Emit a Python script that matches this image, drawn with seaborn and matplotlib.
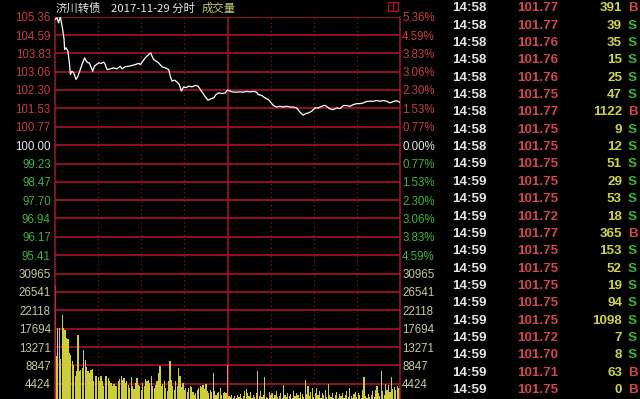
import numpy as np
import pandas as pd
import matplotlib
matplotlib.use("Agg")
import matplotlib.pyplot as plt
import seaborn as sns
from matplotlib.patches import Rectangle

# ---------------- data ----------------
title_name = "济川转债"
title_date = "2017-11-29 分时"
title_vol = "成交量"

price_minutes = [0, 1.4, 2.5, 3.7, 5.3, 6.3, 6.7, 7.7, 9.0, 10.0, 10.7, 11.8, 13.0, 14.6, 16.0,
                 17.6, 19.2, 20.6, 21.8, 23.0, 23.9, 25.3, 26.2, 27.4, 28.8, 30.4, 32.2, 33.9,
                 35.0, 36.2, 38.5, 40.8, 43.1, 45.4, 46.6, 48.9, 51.2, 53.6, 55.9, 58.2, 59.4,
                 61.0, 62.8, 65.2, 66.5, 67.5, 68.6, 70.3, 72.1, 74.4, 76.8, 79.1, 80.2, 81.4,
                 83.2, 84.9, 86.5, 87.9, 89.5, 91.1, 93.0, 95.3, 97.6, 99.5, 101.1, 102.7,
                 104.6, 106.4, 108.3, 110.4, 112.0, 113.9, 116.2, 118.5, 120.0, 121.7, 124.1,
                 126.4, 128.7, 131.0, 133.3, 135.7, 138.0, 140.3, 141.4, 143.8, 146.1, 148.4,
                 150.0, 151.9, 154.2, 156.5, 158.8, 161.2, 163.5, 165.8, 168.1, 169.3, 170.9,
                 172.7, 174.6, 176.2, 178.5, 180.9, 183.2, 185.5, 187.8, 189.4, 191.3, 193.6,
                 195.9, 198.3, 200.6, 202.9, 205.2, 207.5, 209.9, 212.2, 214.5, 216.8, 219.1,
                 221.5, 223.8, 226.1, 228.4, 230.7, 233.0, 235.4, 237.7, 240.0]
price_values = [105.24, 105.31, 105.10, 105.36, 104.83, 104.41, 103.99, 104.06, 103.92, 103.43,
                102.95, 103.08, 103.02, 102.74, 102.88, 103.15, 103.43, 103.64, 103.50, 103.43,
                103.43, 103.22, 103.08, 103.29, 103.36, 103.43, 103.41, 103.46, 103.36, 103.15,
                103.18, 103.22, 103.18, 103.29, 103.18, 103.27, 103.29, 103.32, 103.36, 103.41,
                103.36, 103.50, 103.64, 103.78, 103.85, 103.71, 103.57, 103.50, 103.43, 103.27,
                103.22, 103.15, 102.88, 102.67, 102.71, 102.63, 102.53, 102.25, 102.43, 102.39,
                102.46, 102.43, 102.49, 102.46, 102.32, 102.18, 102.01, 101.87, 101.93, 101.97,
                102.11, 102.18, 102.15, 102.18, 102.30, 102.25, 102.21, 102.21, 102.22, 102.21,
                102.24, 102.22, 102.24, 102.21, 102.11, 102.07, 101.97, 101.90, 101.79, 101.65,
                101.59, 101.62, 101.59, 101.62, 101.59, 101.59, 101.55, 101.46, 101.34, 101.25,
                101.32, 101.34, 101.41, 101.55, 101.55, 101.62, 101.66, 101.59, 101.51, 101.48,
                101.55, 101.52, 101.65, 101.65, 101.62, 101.69, 101.73, 101.73, 101.76, 101.82,
                101.83, 101.83, 101.86, 101.83, 101.86, 101.83, 101.76, 101.82, 101.85, 101.78]

volumes = [28300, 11170, 17850, 17850, 10370, 21070, 17850, 17450, 15440, 15190,
           11820, 11410, 9970, 9000, 6190, 7390, 16240, 7390, 7800, 8200,
           12460, 10210, 8440, 7390, 6990, 7800, 7960, 4980, 6190, 6350,
           6030, 5200, 6190, 4980, 3770, 6350, 6190, 5780, 4980, 4580,
           3930, 4420, 3770, 3930, 4980, 5540, 6190, 5380, 5700, 4580,
           4980, 4180, 3500, 6030, 3770, 3130, 4580, 5780, 4180, 3930,
           2970, 4580, 3800, 5540, 4980, 5380, 4580, 6190, 3770, 3370,
           4200, 4980, 6990, 8760, 3930, 4420, 4980, 3370, 2570, 4980,
           9810, 5380, 3770, 2970, 4980, 3770, 8200, 6190, 3610, 4580,
           2970, 3300, 2330, 3370, 3770, 3610, 2330, 1760, 2170, 2970,
           3300, 3930, 3610, 4180, 3130, 4420, 2570, 2170, 2970, 2500,
           6990, 2570, 1760, 2170, 2330, 3370, 1760, 2170, 2500, 2100,
           9000,
           1500, 1200, 1800, 1100, 1400, 900, 1600, 1300, 2000, 1100,
           1500, 2600, 3100, 2200, 1400, 2500, 1000, 1700, 1200, 2200,
           7400, 1500, 2600, 1300, 1800, 6000, 1200, 900, 2400, 1600,
           2200, 1000, 1800, 2700, 1300, 1500, 2100, 1100, 4200, 1700,
           1200, 2300, 1500, 2000, 1000, 2600, 1400, 2200, 1700, 1100,
           2500, 1900, 1300, 5400, 2000, 3800, 1500, 2400, 3400, 1200,
           2100, 3400, 1600, 2700, 1000, 2200, 1600, 3000, 1200, 4400,
           1800, 1300, 2100, 1000, 1700, 2400, 1100, 1900, 1400, 2200,
           900, 1600, 2600, 1300, 3400, 1500, 1000, 2000, 2500, 1200,
           2300, 1700, 1100, 2800, 6000, 1400, 1000, 2000, 1300, 1700,
           2700, 1200, 2900, 3800, 2100, 1500, 7600, 2600, 1800, 4400,
           3000, 4200, 2400, 6000, 3200, 3600, 2800, 3800, 3300, 3500]
auction_minutes = [0, 120]

price_ticks = [105.36, 104.59, 103.83, 103.06, 102.30, 101.53, 100.77, 100.00,
               99.23, 98.47, 97.70, 96.94, 96.17, 95.41]
pct_labels = ["5.36%", "4.59%", "3.83%", "3.06%", "2.30%", "1.53%", "0.77%", "0.00%",
              "0.77%", "1.53%", "2.30%", "3.06%", "3.83%", "4.59%"]
vol_ticks = [30965, 26541, 22118, 17694, 13271, 8847, 4424]
grid_minutes = [30, 60, 90, 150, 180, 210]
half_minute = 120

tick_times = ["14:58"] * 9 + ["14:59"] * 14
tick_prices = ["101.77", "101.77", "101.76", "101.76", "101.76", "101.75", "101.77", "101.75",
               "101.75", "101.75", "101.75", "101.75", "101.72", "101.77", "101.75", "101.75",
               "101.75", "101.75", "101.75", "101.72", "101.70", "101.71", "101.75"]
tick_vols = [391, 39, 35, 15, 25, 47, 1122, 9, 12, 51, 29, 53, 18, 365, 153, 52, 19, 94,
             1098, 7, 8, 63, 0]
tick_sides = ["B", "S", "S", "S", "S", "S", "B", "S", "S", "S", "S", "S", "S", "B", "S",
              "S", "S", "S", "S", "S", "S", "B", "B"]

# ---------------- style ----------------
sns.set_style("dark")
plt.rcParams["font.family"] = ["Liberation Sans", "DejaVu Sans"]
BG = "#000000"
GRID = "#a8142c"
DOT = "#7a1222"
RED = "#d24650"
AXRED = "#c83c46"
GREEN = "#3cb43c"
WHITE = "#e6e6e6"
VOLTXT = "#c8c8a0"
YELLOW = "#cccc3c"

W, H = 640, 399
fig = plt.figure(figsize=(W / 100, H / 100), dpi=100, facecolor=BG)

def fx(px):
    return px / W

def fy(py):
    return 1 - py / H

left, right = 55, 400
p_top, p_bot = 16.6, 273.6
v_top, v_bot = 273.6, 402.1

axp = fig.add_axes([fx(left), fy(p_bot), fx(right - left), (p_bot - p_top) / H])
axv = fig.add_axes([fx(left), fy(v_bot), fx(right - left), (v_bot - v_top) / H])

for ax in (axp, axv):
    ax.set_facecolor(BG)
    ax.set_xlim(0, 240)
    for s in ("top", "bottom"):
        ax.spines[s].set_visible(False)
    for s in ("left", "right"):
        ax.spines[s].set_color(GRID)
        ax.spines[s].set_linewidth(1.1)
    ax.set_xticks([])
    ax.set_xlabel("")
    ax.set_ylabel("")
    for m in grid_minutes:
        ax.axvline(m, color=DOT, lw=0.9, ls=(0, (1.2, 2.2)), zorder=0)
    ax.axvline(half_minute, color=GRID, lw=1.1, zorder=0)

# price panel
step = 0.7657
axp.set_ylim(100 - 7 * step, 100 + 7 * step)
for t in price_ticks:
    axp.axhline(t, color=GRID, lw=1.2, zorder=0)
axp.axhline(100 - 7 * step, color=GRID, lw=1.2, zorder=0)
sns.lineplot(x=price_minutes, y=price_values, color="white", linewidth=0.9, ax=axp, zorder=3)
axp.set_xlim(0, 240)
axp.set_yticks(price_ticks)
axp.set_yticklabels([f"{t:.2f}" for t in price_ticks], fontsize=8.3)
axp.tick_params(axis="y", length=0, pad=3.0)
for lab, t in zip(axp.get_yticklabels(), price_ticks):
    lab.set_color(AXRED if t > 100 else (WHITE if t == 100 else GREEN))
axp2 = axp.twinx()
axp2.set_ylim(axp.get_ylim())
axp2.set_yticks(price_ticks)
axp2.set_yticklabels(pct_labels, fontsize=8.3)
axp2.tick_params(axis="y", length=0, pad=1.5)
for s in axp2.spines.values():
    s.set_visible(False)
for lab, t in zip(axp2.get_yticklabels(), price_ticks):
    lab.set_color(AXRED if t > 100 else (WHITE if t == 100 else GREEN))
axp.grid(False)
axp2.grid(False)

# volume panel
vol_df = pd.DataFrame({"minute": np.arange(len(volumes)), "volume": volumes})
vol_df["kind"] = np.where(vol_df["minute"].isin(auction_minutes), "auction", "normal")
sns.barplot(data=vol_df, x="minute", y="volume", hue="kind",
            palette={"normal": YELLOW, "auction": "#ff8c28"},
            native_scale=True, dodge=False, width=0.85, errorbar=None,
            legend=False, saturation=1, linewidth=0, ax=axv, zorder=2)
axv.set_xlim(0, 240)
axv.set_ylim(0, vol_ticks[0])
for t in vol_ticks:
    axv.axhline(t, color=GRID, lw=1.2, zorder=0)
axv.set_yticks(vol_ticks)
axv.set_yticklabels([str(t) for t in vol_ticks], fontsize=8.3, color=VOLTXT)
axv.tick_params(axis="y", length=0, pad=3.0)
axv.set_xticks([])
axv.set_xlabel("")
axv.set_ylabel("")
axv.grid(False)
axv2 = axv.twinx()
axv2.set_ylim(axv.get_ylim())
axv2.set_yticks(vol_ticks)
axv2.set_yticklabels([str(t) for t in vol_ticks], fontsize=8.3, color=VOLTXT)
axv2.tick_params(axis="y", length=0, pad=1.5)
for s in axv2.spines.values():
    s.set_visible(False)
axv2.grid(False)

# title
cjk = ["Noto Sans CJK SC", "DejaVu Sans"]
fig.text(fx(56), fy(8), title_name, color=WHITE, fontsize=8.2, family=cjk, va="center")
fig.text(fx(111), fy(8), title_date, color=WHITE, fontsize=8.2, family=cjk, va="center")
fig.text(fx(202), fy(8), title_vol, color="#c8c878", fontsize=8.2, family=cjk, va="center")
fig.patches.append(Rectangle((fx(388), fy(11)), fx(10), 9 / H, fill=False,
                             edgecolor=GRID, lw=1, transform=fig.transFigure))
fig.lines.append(plt.Line2D([fx(393), fx(393)], [fy(11), fy(2)], color=GRID, lw=1,
                            transform=fig.transFigure))

# trade ticks table
base0, row_step = 11.2, 17.36
for i, (tm, pr, vo, sd) in enumerate(zip(tick_times, tick_prices, tick_vols, tick_sides)):
    y = fy(base0 + i * row_step)
    fig.text(fx(452), y, tm, color=WHITE, fontsize=9.6, fontweight="bold", va="baseline")
    fig.text(fx(517), y, pr, color=RED, fontsize=9.6, fontweight="bold", va="baseline")
    fig.text(fx(622), y, str(vo), color="#d2d246", fontsize=9.6, fontweight="bold",
             va="baseline", ha="right")
    fig.text(fx(632.5), y, sd, color=RED if sd == "B" else GREEN, fontsize=9.6,
             fontweight="bold", va="baseline", ha="center")

fig.savefig("out.png", dpi=100, facecolor=BG)
